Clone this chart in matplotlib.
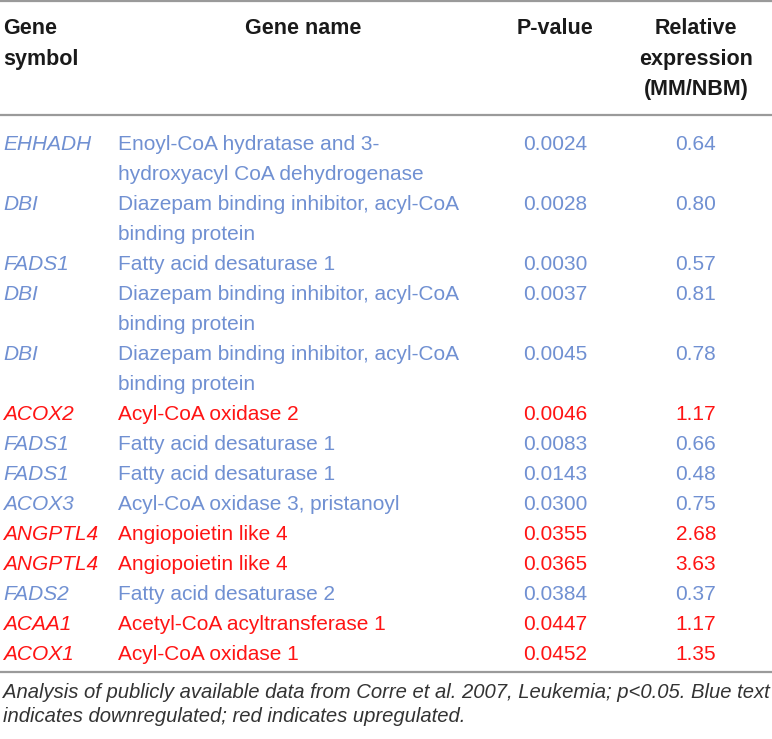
import matplotlib
matplotlib.use("Agg")
import matplotlib.pyplot as plt

# table contents
symbols = ["EHHADH", "DBI", "FADS1", "DBI", "DBI", "ACOX2", "FADS1", "FADS1",
           "ACOX3", "ANGPTL4", "ANGPTL4", "FADS2", "ACAA1", "ACOX1"]
names = ["Enoyl-CoA hydratase and 3-\nhydroxyacyl CoA dehydrogenase",
         "Diazepam binding inhibitor, acyl-CoA\nbinding protein",
         "Fatty acid desaturase 1",
         "Diazepam binding inhibitor, acyl-CoA\nbinding protein",
         "Diazepam binding inhibitor, acyl-CoA\nbinding protein",
         "Acyl-CoA oxidase 2",
         "Fatty acid desaturase 1",
         "Fatty acid desaturase 1",
         "Acyl-CoA oxidase 3, pristanoyl",
         "Angiopoietin like 4",
         "Angiopoietin like 4",
         "Fatty acid desaturase 2",
         "Acetyl-CoA acyltransferase 1",
         "Acyl-CoA oxidase 1"]
pvalues = ["0.0024", "0.0028", "0.0030", "0.0037", "0.0045", "0.0046", "0.0083",
           "0.0143", "0.0300", "0.0355", "0.0365", "0.0384", "0.0447", "0.0452"]
rel_expr = ["0.64", "0.80", "0.57", "0.81", "0.78", "1.17", "0.66", "0.48",
            "0.75", "2.68", "3.63", "0.37", "1.17", "1.35"]
upregulated = [False, False, False, False, False, True, False, False,
               False, True, True, False, True, True]

caption = ("Analysis of publicly available data from Corre et al. 2007, Leukemia; p<0.05. Blue text\n"
           "indicates downregulated; red indicates upregulated.")

BLUE = "#7090d2"
RED = "#ff1414"
FONT = "Liberation Sans"

W, H = 772, 739
fig = plt.figure(figsize=(W / 100, H / 100), dpi=100)
ax = fig.add_axes([0, 0, 1, 1])
ax.set_xlim(0, W)
ax.set_ylim(H, 0)
ax.axis("off")

body = dict(fontsize=15, family=FONT, va="center")
head = dict(fontsize=15.5, family=FONT, fontweight="bold", va="center", color="#1a1a1a")

# rules
for y in (1, 115, 672):
    ax.plot([0, W], [y, y], color="#9a9a9a", lw=1.6, solid_capstyle="butt")

# header
ax.text(3, 28, "Gene", ha="left", **head)
ax.text(3, 59, "symbol", ha="left", **head)
ax.text(303, 28, "Gene name", ha="center", **head)
ax.text(555, 28, "P-value", ha="center", **head)
ax.text(696, 28, "Relative", ha="center", **head)
ax.text(696, 59, "expression", ha="center", **head)
ax.text(696, 90, "(MM/NBM)", ha="center", **head)

line_h = 30.0
y = 144
for sym, name, p, r, up in zip(symbols, names, pvalues, rel_expr, upregulated):
    c = RED if up else BLUE
    ax.text(3, y, sym, ha="left", color=c, style="italic", **body)
    for k, part in enumerate(name.split("\n")):
        ax.text(118, y + k * line_h, part, ha="left", color=c, **body)
    ax.text(555, y, p, ha="center", color=c, **body)
    ax.text(696, y, r, ha="center", color=c, **body)
    y += line_h * len(name.split("\n"))

for k, part in enumerate(caption.split("\n")):
    ax.text(3, 692 + k * 25, part, ha="left", va="center", fontsize=14.6,
            family=FONT, style="italic", color="#333333")

fig.savefig("out.png", dpi=100)
